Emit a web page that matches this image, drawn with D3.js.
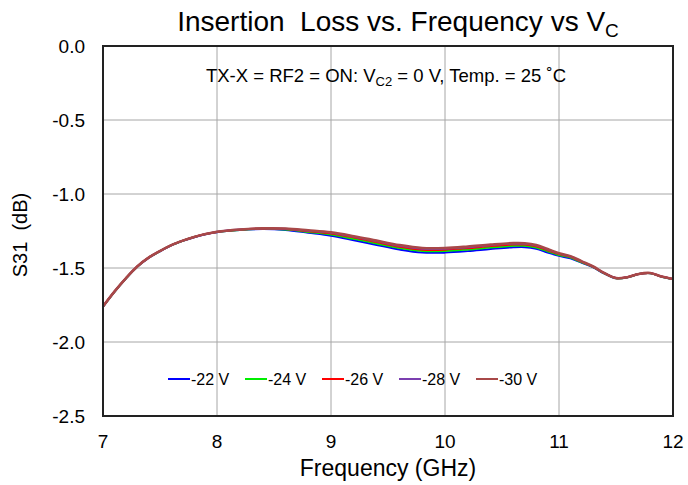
<!DOCTYPE html>
<html lang="en">
<head>
<meta charset="utf-8">
<title>Insertion Loss vs. Frequency vs VC</title>
<script src="https://cdn.jsdelivr.net/npm/d3@7"></script>
<style>
  * { margin: 0; padding: 0; }
  body { background: #fff; font-family: "Liberation Sans", Arial, Helvetica, sans-serif; }
  svg { display: block; }
  .grid line { stroke: #a6a6a6; stroke-width: 1; }
  .tick-label { font-size: 19px; fill: #000; }
  .series { fill: none; stroke-linejoin: round; stroke-linecap: round; }
</style>
</head>
<body>
<div id="chart"></div>
<script>
// frequency points (GHz)
var freq = [7.0, 7.1, 7.2, 7.3, 7.4, 7.5, 7.6, 7.7, 7.8, 7.9, 8.0, 8.2, 8.4, 8.6, 8.8,
            9.0, 9.2, 9.4, 9.6, 9.8, 10.0, 10.2, 10.4, 10.6, 10.7, 10.8, 10.9, 11.0,
            11.1, 11.2, 11.3, 11.4, 11.5, 11.6, 11.7, 11.8, 11.9, 12.0];

// S31 (dB) for each control voltage
var s31_22 = [-1.762, -1.662, -1.572, -1.492, -1.432, -1.387, -1.347, -1.317, -1.292, -1.272, -1.258, -1.244, -1.237, -1.243, -1.262,
              -1.282, -1.312, -1.344, -1.375, -1.396, -1.396, -1.386, -1.372, -1.360, -1.359, -1.370, -1.395, -1.418,
              -1.435, -1.465, -1.496, -1.538, -1.569, -1.563, -1.541, -1.535, -1.559, -1.575];
var s31_24 = [-1.761, -1.661, -1.571, -1.491, -1.431, -1.386, -1.346, -1.316, -1.291, -1.271, -1.257, -1.243, -1.235, -1.240, -1.256,
              -1.274, -1.303, -1.334, -1.365, -1.385, -1.385, -1.375, -1.362, -1.350, -1.350, -1.361, -1.387, -1.412,
              -1.430, -1.462, -1.494, -1.537, -1.569, -1.563, -1.541, -1.535, -1.559, -1.575];
var s31_26 = [-1.760, -1.660, -1.570, -1.490, -1.430, -1.385, -1.345, -1.315, -1.290, -1.270, -1.256, -1.241, -1.234, -1.236, -1.251,
              -1.267, -1.294, -1.325, -1.356, -1.376, -1.376, -1.366, -1.352, -1.342, -1.342, -1.354, -1.380, -1.406,
              -1.425, -1.459, -1.492, -1.536, -1.568, -1.562, -1.540, -1.534, -1.558, -1.574];
var s31_28 = [-1.760, -1.660, -1.570, -1.490, -1.430, -1.385, -1.345, -1.315, -1.290, -1.270, -1.255, -1.240, -1.233, -1.234, -1.248,
              -1.262, -1.289, -1.319, -1.350, -1.370, -1.370, -1.360, -1.346, -1.336, -1.337, -1.349, -1.375, -1.403,
              -1.422, -1.456, -1.491, -1.535, -1.568, -1.562, -1.540, -1.534, -1.558, -1.574];
var s31_30 = [-1.760, -1.660, -1.570, -1.490, -1.430, -1.385, -1.345, -1.315, -1.290, -1.270, -1.255, -1.240, -1.232, -1.233, -1.245,
              -1.259, -1.285, -1.315, -1.345, -1.365, -1.365, -1.355, -1.342, -1.332, -1.333, -1.345, -1.372, -1.400,
              -1.420, -1.455, -1.490, -1.535, -1.568, -1.562, -1.540, -1.534, -1.558, -1.574];

var seriesNames = ["-22 V", "-24 V", "-26 V", "-28 V", "-30 V"];
var seriesValues = [s31_22, s31_24, s31_26, s31_28, s31_30];
var seriesColors = ["#0000ff", "#00ee00", "#ff0000", "#7b3fb0", "#a84848"];
var seriesWidths = [2, 2, 2, 2, 2.6];

var xTicks = [7, 8, 9, 10, 11, 12];
var yTicks = [0.0, -0.5, -1.0, -1.5, -2.0, -2.5];

//Width and height
var w = 688;
var h = 485;
//plot area edges
var pLeft = 103, pRight = 673, pTop = 46, pBottom = 416;

var svg = d3.select("#chart")
    .append("svg")
    .attr("width", w)
    .attr("height", h);

var x = d3.scaleLinear().domain([7, 12]).range([pLeft, pRight]);
var y = d3.scaleLinear().domain([-2.5, 0]).range([pBottom, pTop]);

//gridlines
var grid = svg.append("g").attr("class", "grid");
grid.selectAll("line.v")
    .data(xTicks.slice(1, -1))
    .enter().append("line")
    .attr("class", "v")
    .attr("x1", function(d) { return x(d); })
    .attr("x2", function(d) { return x(d); })
    .attr("y1", pTop)
    .attr("y2", pBottom);
grid.selectAll("line.h")
    .data(yTicks.slice(1, -1))
    .enter().append("line")
    .attr("class", "h")
    .attr("x1", pLeft)
    .attr("x2", pRight)
    .attr("y1", function(d) { return y(d); })
    .attr("y2", function(d) { return y(d); });

//tick labels
svg.selectAll("text.ylab")
    .data(yTicks)
    .enter().append("text")
    .attr("class", "tick-label ylab")
    .attr("x", 85)
    .attr("y", function(d) { return y(d) + 7; })
    .attr("text-anchor", "end")
    .text(function(d) { return d3.format(".1f")(d).replace("−", "-"); });

svg.selectAll("text.xlab")
    .data(xTicks)
    .enter().append("text")
    .attr("class", "tick-label xlab")
    .attr("x", function(d) { return x(d); })
    .attr("y", 448)
    .attr("text-anchor", "middle")
    .text(function(d) { return d; });

//clip for the curves
svg.append("clipPath").attr("id", "plotclip")
  .append("rect")
    .attr("x", pLeft).attr("y", pTop)
    .attr("width", pRight - pLeft).attr("height", pBottom - pTop);

var line = d3.line()
    .x(function(d, i) { return x(freq[i]); })
    .y(function(d) { return y(d); })
    .curve(d3.curveCatmullRom.alpha(0.5));

svg.append("g")
    .attr("clip-path", "url(#plotclip)")
  .selectAll("path")
    .data(seriesValues)
    .enter().append("path")
    .attr("class", "series")
    .attr("d", line)
    .attr("stroke", function(d, i) { return seriesColors[i]; })
    .attr("stroke-width", function(d, i) { return seriesWidths[i]; });

//plot frame
svg.append("rect")
    .attr("x", pLeft).attr("y", pTop)
    .attr("width", pRight - pLeft).attr("height", pBottom - pTop)
    .attr("fill", "none")
    .attr("stroke", "#222")
    .attr("stroke-width", 2);

//legend
var legend = svg.append("g")
  .selectAll("g")
    .data(seriesNames)
    .enter().append("g")
    .attr("transform", function(d, i) { return "translate(" + (168 + i * 77) + ",379)"; });
legend.append("line")
    .attr("x1", 0).attr("x2", 22)
    .attr("y1", 0).attr("y2", 0)
    .attr("stroke", function(d, i) { return seriesColors[i]; })
    .attr("stroke-width", 2);
legend.append("text")
    .attr("x", 23)
    .attr("y", 6)
    .style("font-size", "16px")
    .text(function(d) { return d; });

//title
var title = svg.append("text")
    .attr("x", 398)
    .attr("y", 31)
    .attr("text-anchor", "middle")
    .style("font-size", "28px");
title.append("tspan").text("Insertion  Loss vs. Frequency vs V").attr("xml:space", "preserve");
title.append("tspan").attr("dy", 6).style("font-size", "19px").text("C");

//annotation
var note = svg.append("text")
    .attr("x", 386)
    .attr("y", 82)
    .attr("text-anchor", "middle")
    .style("font-size", "18.5px");
note.append("tspan").text("TX-X = RF2 = ON: V");
note.append("tspan").attr("dy", 4).style("font-size", "13px").text("C2");
note.append("tspan").attr("dy", -4).text(" = 0 V, Temp. = 25 ˚C");

//axis titles
svg.append("text")
    .attr("x", 388)
    .attr("y", 476)
    .attr("text-anchor", "middle")
    .style("font-size", "23px")
    .text("Frequency (GHz)");

svg.append("text")
    .attr("transform", "translate(27,235) rotate(-90)")
    .attr("text-anchor", "middle")
    .attr("xml:space", "preserve")
    .style("font-size", "20px")
    .text("S31  (dB)");
</script>
</body>
</html>
